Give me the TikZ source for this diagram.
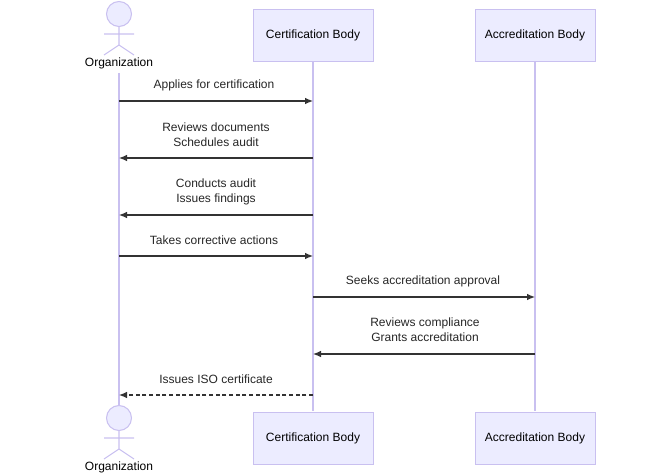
\documentclass[tikz,border=0pt]{standalone}
\usepackage{fontspec}
\setmainfont{Liberation Sans}
\usetikzlibrary{arrows.meta}
\definecolor{boxfill}{HTML}{ECECFF}
\definecolor{boxline}{HTML}{C9C0F0}
\definecolor{lifeline}{HTML}{C9C0F0}
\definecolor{msgline}{HTML}{333333}
\tikzset{
    party/.style={draw=boxline,fill=boxfill,minimum width=90pt,minimum height=39pt,font=\fontsize{9}{11}\selectfont},
    msg/.style={draw=msgline,line width=0.9pt,-{Latex[length=6pt,width=5pt]}},
    note/.style={font=\fontsize{9}{11.5}\selectfont,align=center,text=black!85},
    life/.style={draw=lifeline,line width=1pt}
}
\newcommand{\stickman}[2]{%
    \draw[draw=boxline,fill=boxfill,line width=0.8pt] (119,#1) circle (12.5);
    \draw[boxline,line width=0.8pt] (119,#1+12.5) -- (119,#1+31) (104,#1+20) -- (134,#1+20)
        (104,#1+41) -- (119,#1+31) -- (134,#1+41);
    \node[font=\fontsize{9}{11}\selectfont] (#2) at (119,#1+49) {Organization};
}
\begin{document}
\begin{tikzpicture}[x=0.75pt,y=-0.75pt]
    \useasboundingbox (0,0) rectangle (652,474);

    % lifelines
    \coordinate (orgtop) at (119,73);
    \coordinate (orgbot) at (119,405);
    \draw[life] (orgtop) -- (orgbot);
    \draw[life] (313,61) -- (313,411);
    \draw[life] (535,61) -- (535,411);

    % participants
    \stickman{14}{orgA}
    \node[party] (certA) at (313,35) {Certification Body};
    \node[party] (accrA) at (535,35) {Accreditation Body};
    \stickman{418}{orgB}
    \node[party] (certB) at (313,438) {Certification Body};
    \node[party] (accrB) at (535,438) {Accreditation Body};

    % message anchors
    \foreach \y in {101,158,215,256,297,354,395}{
        \coordinate (o\y) at (119,\y);
        \coordinate (c\y) at (313,\y);
        \coordinate (a\y) at (535,\y);
    }

    % messages
    \draw[msg] (o101) -- (c101);
    \node[note] at (214,85) {Applies for certification};
    \draw[msg] (c158) -- (o158);
    \node[note] at (216,135) {Reviews documents\\Schedules audit};
    \draw[msg] (c215) -- (o215);
    \node[note] at (216,192) {Conducts audit\\Issues findings};
    \draw[msg] (o256) -- (c256);
    \node[note] at (214,240) {Takes corrective actions};
    \draw[msg] (c297) -- (a297);
    \node[note] at (423,281) {Seeks accreditation approval};
    \draw[msg] (a354) -- (c354);
    \node[note] at (425,330) {Reviews compliance\\Grants accreditation};
    \draw[msg,dashed,dash pattern=on 3pt off 2pt] (c395) -- (o395);
    \node[note] at (216,379) {Issues ISO certificate};
\end{tikzpicture}
\end{document}
